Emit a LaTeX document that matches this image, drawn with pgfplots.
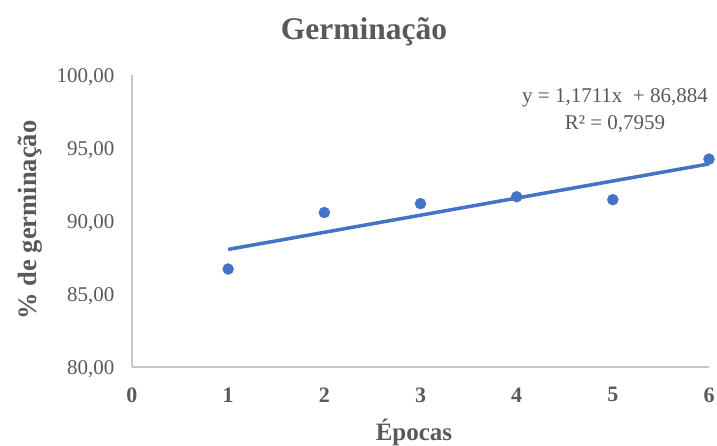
\documentclass[border=0pt]{standalone}
\usepackage{fontspec}
\setmainfont{Liberation Serif}
\usepackage{pgfplots}
\pgfplotsset{compat=1.18}
\definecolor{txt}{HTML}{595959}
\definecolor{axl}{HTML}{C8C8C8}
\definecolor{blu}{HTML}{4472C4}
\begin{document}
\begin{tikzpicture}
\useasboundingbox (-132pt,-78pt) rectangle (585pt,367pt);
\begin{axis}[
  at={(0,0)}, anchor=south west,
  scale only axis, width=577pt, height=292pt,
  xmin=0, xmax=6, ymin=80, ymax=100,
  axis x line=bottom, axis y line=left,
  axis line style={axl, line width=1.2pt, -},
  xtick={0,1,2,3,4,5,6}, ytick={80,85,90,95,100},
  major tick length=0pt,
  /pgf/number format/assume math mode=true,
  yticklabel style={/pgf/number format/use comma, /pgf/number format/fixed, /pgf/number format/fixed zerofill, /pgf/number format/precision=2, /pgf/number format/1000 sep={}},
  yticklabel style={font=\fontsize{21}{25}\selectfont, text=txt, xshift=-14pt, yshift=-2pt},
  xticklabel style={font=\fontsize{22}{26}\selectfont\bfseries, text=txt, yshift=-17pt},
  clip=false,
]
\addplot[blu, line width=3.5pt, no marks] coordinates {(1,88.055) (6,93.9106)};
\addplot[blu, only marks, mark=*, mark size=5.5pt, mark options={fill=blu, draw=blu}] coordinates {
(1,86.71) (2,90.58) (3,91.19) (4,91.66) (5,91.46) (6,94.24)};
\end{axis}
\node[anchor=base, text=txt, font=\fontsize{31.5}{36}\selectfont\bfseries] at (232pt,327pt) {Germinação};
\node[anchor=base, text=txt, font=\fontsize{25}{30}\selectfont\bfseries] at (282pt,-73pt) {Épocas};
\node[anchor=base, rotate=90, text=txt, font=\fontsize{26.5}{30}\selectfont\bfseries] at (-95pt,147pt) {\% de germinação};
\node[align=center, text=txt, font=\fontsize{21}{27}\selectfont] at (483pt,256pt) {y = 1,1711x\ \ + 86,884\\R² = 0,7959};
\end{tikzpicture}
\end{document}
